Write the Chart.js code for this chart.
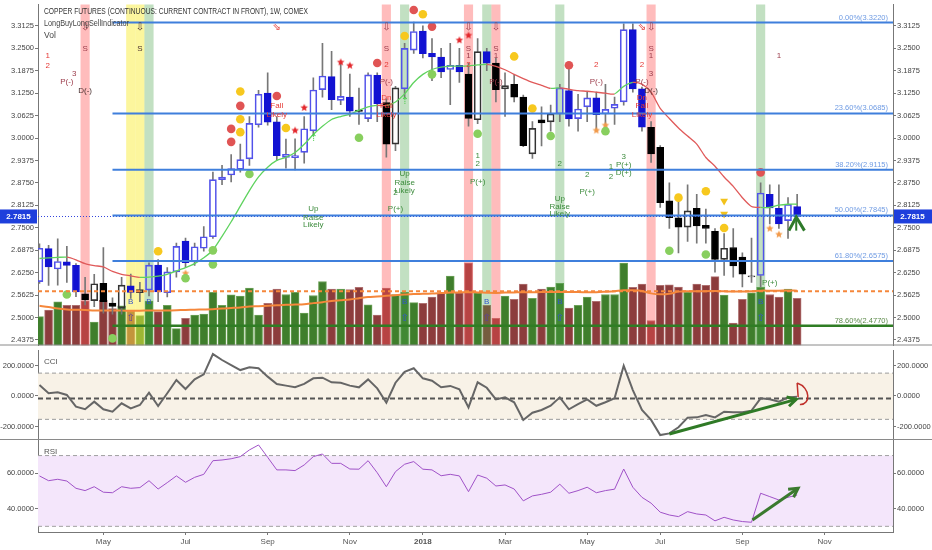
<!DOCTYPE html>
<html>
<head>
<meta charset="utf-8">
<title>Copper futures 1W</title>
<script src="https://cdn.jsdelivr.net/npm/chart.js@4.4.1/dist/chart.umd.min.js"></script>
<style>
  html, body { margin: 0; padding: 0; background: #fff; overflow: hidden; }
  #wrap { position: relative; width: 932px; height: 550px; }
  #wrap canvas { position: absolute; left: 0; }
</style>
</head>
<body>
<div id="wrap">
  <canvas id="mainChart" width="932" height="350" style="top:0"></canvas>
  <canvas id="cciChart" width="932" height="90" style="top:350px"></canvas>
  <canvas id="rsiChart" width="932" height="110" style="top:440px"></canvas>
</div>
<script>
// weekly bars, the first one is the week of 13 Mar 2017
const firstWeek = [2017, 2, 13];
const monthNames = ['Jan', 'Feb', 'Mar', 'Apr', 'May', 'Jun', 'Jul', 'Aug', 'Sep', 'Oct', 'Nov', 'Dec'];
const totalWeeks = 94;

const openP = [
  2.600, 2.692, 2.635, 2.655, 2.645, 2.566, 2.547, 2.595, 2.540, 2.526,
  2.588, 2.569, 2.576, 2.646, 2.569, 2.627, 2.713, 2.655, 2.693, 2.725,
  2.884, 2.897, 2.913, 2.942, 3.037, 3.125, 3.045, 2.946, 2.945, 2.960,
  3.020, 3.135, 3.171, 3.105, 3.114, 3.078, 3.054, 3.175, 3.099, 2.983,
  3.137, 3.245, 3.298, 3.236, 3.226, 3.191, 3.203, 3.178, 3.051, 3.241,
  3.209, 3.137, 3.150, 3.114, 2.956, 3.051, 3.045, 3.067, 3.132, 3.054,
  3.087, 3.112, 3.067, 3.083, 3.101, 3.302, 3.137, 3.030, 2.974, 2.825,
  2.778, 2.752, 2.804, 2.757, 2.740, 2.662, 2.695, 2.668, 2.613, 2.617,
  2.843, 2.804, 2.770, 2.809
];
const highP = [
  2.705, 2.701, 2.719, 2.698, 2.650, 2.612, 2.620, 2.695, 2.555, 2.612,
  2.621, 2.598, 2.652, 2.661, 2.639, 2.707, 2.721, 2.707, 2.753, 2.905,
  2.924, 2.954, 2.983, 3.060, 3.133, 3.182, 3.060, 2.997, 2.998, 3.060,
  3.168, 3.264, 3.242, 3.209, 3.178, 3.139, 3.182, 3.182, 3.109, 3.144,
  3.264, 3.323, 3.313, 3.277, 3.250, 3.264, 3.250, 3.209, 3.277, 3.250,
  3.223, 3.182, 3.177, 3.120, 3.046, 3.087, 3.092, 3.150, 3.196, 3.122,
  3.128, 3.128, 3.150, 3.114, 3.318, 3.318, 3.142, 3.046, 2.979, 2.875,
  2.843, 2.870, 2.843, 2.802, 2.748, 2.734, 2.748, 2.680, 2.721, 2.875,
  2.870, 2.870, 2.834, 2.843
];
const lowP = [
  2.595, 2.589, 2.590, 2.598, 2.558, 2.535, 2.530, 2.512, 2.509, 2.509,
  2.553, 2.544, 2.560, 2.544, 2.557, 2.612, 2.639, 2.645, 2.685, 2.720,
  2.870, 2.878, 2.905, 2.924, 3.030, 3.036, 2.938, 2.916, 2.911, 2.930,
  3.011, 3.114, 3.079, 3.093, 3.060, 3.038, 3.046, 3.046, 2.947, 2.965,
  3.114, 3.236, 3.223, 3.160, 3.168, 3.093, 3.155, 3.033, 3.040, 3.188,
  3.101, 3.060, 3.101, 2.976, 2.943, 2.978, 3.019, 3.046, 3.033, 3.019,
  3.046, 3.019, 3.033, 3.038, 3.092, 3.128, 3.019, 2.932, 2.807, 2.748,
  2.680, 2.712, 2.707, 2.707, 2.626, 2.617, 2.612, 2.585, 2.598, 2.585,
  2.761, 2.748, 2.720, 2.770
];
const closeP = [
  2.693, 2.641, 2.656, 2.645, 2.571, 2.549, 2.594, 2.544, 2.531, 2.590,
  2.570, 2.578, 2.646, 2.571, 2.627, 2.698, 2.653, 2.697, 2.725, 2.884,
  2.891, 2.915, 2.940, 3.041, 3.122, 3.044, 2.951, 2.955, 2.951, 3.026,
  3.134, 3.173, 3.107, 3.116, 3.075, 3.074, 3.176, 3.096, 2.983, 3.140,
  3.250, 3.297, 3.235, 3.226, 3.184, 3.203, 3.184, 3.055, 3.241, 3.209,
  3.135, 3.146, 3.114, 2.979, 3.027, 3.042, 3.067, 3.140, 3.053, 3.081,
  3.112, 3.065, 3.080, 3.094, 3.302, 3.137, 3.030, 2.956, 2.820, 2.778,
  2.752, 2.797, 2.755, 2.748, 2.662, 2.693, 2.644, 2.621, 2.615, 2.847,
  2.805, 2.761, 2.815, 2.7815
];
// b = blue painted bar, k = black painted bar
const candleTone = ('bbbbbkkkkk' + 'bkbbbbbbbb' + 'bbbbbbbbbb' + 'bbbbbkbbkk' + 'bbbbbbbkkb' +
                    'kkkkkkkbbb' + 'bbbbbbbkkk' + 'kkkkkkkkkb' + 'bbbb').split('');
// volume, thousands of contracts
const volume = [
  29.7, 36.3, 44.7, 41.3, 41.3, 45.7, 24.0, 46.3, 38.0, 40.7,
  35.7, 30.7, 45.7, 34.7, 41.3, 17.3, 28.0, 31.3, 32.3, 54.7,
  41.3, 52.0, 50.7, 59.0, 31.3, 43.3, 58.0, 52.3, 54.7, 33.3,
  51.3, 65.7, 58.0, 58.0, 57.3, 59.7, 41.7, 31.3, 59.0, 52.3,
  54.7, 44.0, 43.3, 49.7, 54.0, 71.3, 54.0, 84.7, 54.0, 41.3,
  28.0, 50.7, 47.3, 63.0, 48.3, 58.0, 60.0, 63.7, 38.3, 41.3,
  49.7, 45.3, 52.3, 52.3, 84.7, 59.7, 63.0, 25.7, 61.7, 62.3,
  60.0, 54.7, 63.0, 61.7, 70.7, 51.7, 23.0, 47.3, 54.0, 59.7,
  52.3, 49.7, 58.0, 48.3
];
const volumeMA = [
  40.7, 39.5, 38.0, 37.0, 36.7, 36.5, 36.0, 36.0, 36.0, 35.8,
  35.7, 35.7, 36.0, 36.0, 36.0, 36.2, 36.5, 36.8, 37.0, 37.3,
  38.0, 38.5, 39.0, 40.0, 40.3, 40.7, 41.2, 41.7, 42.0, 42.3,
  43.5, 44.5, 45.7, 46.5, 47.3, 48.5, 49.7, 50.3, 51.0, 51.7,
  52.3, 52.8, 53.0, 53.3, 53.8, 54.3, 54.5, 54.7, 54.5, 54.2,
  54.0, 54.3, 54.5, 54.7, 54.7, 54.8, 55.0, 55.0, 55.0, 54.8,
  54.7, 54.7, 55.2, 55.8, 56.7, 56.7, 56.0, 53.5, 52.5, 53.0,
  55.3, 55.7, 55.7, 55.7, 56.0, 55.7, 55.3, 55.5, 55.7, 56.3,
  56.3, 56.3, 56.5, 56.3
];
const volumeLevel = 55.7;
const trendMA = [
  2.6643, 2.6662, 2.6676, 2.6681, 2.6608, 2.6500, 2.6445, 2.6410, 2.6282, 2.6201,
  2.6160, 2.6119, 2.6125, 2.6150, 2.6201, 2.6296, 2.6391, 2.6500, 2.6662, 2.6880,
  2.7260, 2.7667, 2.8102, 2.8536, 2.8916, 2.9188, 2.9378, 2.9459, 2.9595, 2.9826,
  3.0097, 3.0328, 3.0518, 3.0599, 3.0662, 3.0776, 3.0871, 3.0912, 3.0904, 3.1007,
  3.1232, 3.1550, 3.1775, 3.1911, 3.1976, 3.2003, 3.2003, 3.2011, 3.2039, 3.2052,
  3.1998, 3.1903, 3.1775, 3.1658, 3.1550, 3.1468, 3.1384, 3.1401, 3.1360, 3.1322,
  3.1305, 3.1278, 3.1251, 3.1232, 3.1441, 3.1550, 3.1504, 3.1278, 3.0825, 3.0545,
  3.0282, 3.0056, 2.9831, 2.9459, 2.9215, 2.8916, 2.8653, 2.8337, 2.8093, 2.8066,
  2.8066, 2.8129, 2.8156, 2.8156
];
const cciValues = [
  72, 18, 24, 7, -70, -87, -37, -87, -103, -48,
  -81, -59, 22, -66, 18, 105, 46, 109, 142, 275,
  236, 203, 170, 188, 182, 127, 79, 68, 57, 79,
  116, 120, 90, 87, 68, 57, 109, 50, -44, 87,
  159, 182, 116, 100, 57, 66, 44, -75, 90, 54,
  -22, -9, -41, -157, -110, -92, -64, -9, -87, -54,
  -22, -64, -41, -15, 199, 39, -92, -157, -256, -245,
  -205, -142, -140, -125, -140, -103, -107, -107, -96, -15,
  -22, -37, -9, -5
];
const rsiValues = [
  58.5, 55.8, 56.6, 55.6, 51.5, 50.2, 52.4, 49.3, 49.0, 52.4,
  51.5, 51.9, 55.8, 51.1, 54.7, 58.5, 54.9, 57.7, 59.4, 67.1,
  67.5, 68.2, 69.4, 73.2, 76.0, 69.0, 61.9, 61.9, 61.5, 64.7,
  69.4, 70.9, 65.6, 65.6, 62.4, 62.3, 67.1, 60.3, 52.4, 60.9,
  65.1, 66.6, 62.3, 61.9, 58.6, 59.4, 58.5, 49.6, 59.0, 57.2,
  52.8, 53.4, 51.1, 44.4, 47.2, 48.1, 49.3, 53.8, 48.7, 50.2,
  52.1, 49.0, 50.2, 51.0, 62.4, 52.1, 46.4, 43.1, 38.0, 36.4,
  35.5, 38.3, 37.0, 36.4, 33.1, 35.1, 33.6, 32.7, 32.3, 48.7,
  46.8, 44.9, 46.4, 47.7
];

const fibNames = ['0.00%', '23.60%', '38.20%', '50.00%', '61.80%', '78.60%'];
const fibPrices = [3.3220, 3.0685, 2.9115, 2.7845, 2.6575, 2.4770];
const fibFromBar = 8;
const lastPrice = 2.7815;

const redBands = [5, 38, 47, 50, 67];
const yellowBands = [10, 11];
const greenBands = [12, 40, 49, 57, 79];

const priceTicks = [2.4375, 2.5, 2.5625, 2.625, 2.6875, 2.75, 2.8125, 2.875, 2.9375,
                    3.0, 3.0625, 3.125, 3.1875, 3.25, 3.3125];
const cciTicks = [-200, 0, 200];
const rsiTicks = [40, 60];
const cciLevels = [150, -17, -153];
const rsiLevels = [70, 30];

// signal marks: [bar, price]
const redDots = [[21, 3.0255], [21, 2.9894], [22, 3.0898], [26, 3.117], [37, 3.2093],
                 [41, 3.3567], [43, 3.3106], [58, 3.203], [79, 2.9044]];
const yellowDots = [[22, 3.1297], [22, 3.0526], [22, 3.0165], [27, 3.0282], [40, 3.2845],
                    [42, 3.345], [52, 3.2275], [54, 3.0825], [13, 2.6844], [70, 2.8339],
                    [73, 2.8517], [75, 2.7493]];
const greenDots = [[23, 2.8998], [35, 3.001], [43, 3.1775], [48, 3.0119], [56, 3.0056],
                   [62, 3.0192], [3, 2.5639], [8, 2.4417], [16, 2.6092], [19, 2.6871],
                   [19, 2.648], [69, 2.6861], [73, 2.6753]];
const redStars = [[28, 3.0211], [29, 3.0844], [33, 3.2112], [34, 3.202], [46, 3.2726], [47, 3.2861]];
const orangeStars = [[16, 2.6228], [61, 3.0211], [62, 3.0355], [80, 2.7477], [81, 2.7314]];
const yellowDown = [[75, 2.8246], [75, 2.7885]];

// text signals: [bar, price, text, tone]
const notes = [
  [0.9, 3.228, '1', 'r'], [0.9, 3.201, '2', 'r'], [3.8, 3.179, '3', 'm'], [3.0, 3.158, 'P(-)', 'm'],
  [5, 3.133, 'D(-)', 'd'], [5, 3.307, '⇩', 'm'], [5, 3.250, 'S', 'm'],
  [11, 3.307, '⇩', 'd'], [11, 3.250, 'S', 'd'],
  [26, 3.307, '⇘', 'r'], [26, 3.090, 'Fall', 'r'], [26, 3.065, 'Likely', 'r'],
  [38, 3.307, '⇩', 'm'], [38, 3.250, 'S', 'm'], [38, 3.204, '2', 'r'], [38, 3.158, 'P(-)', 'm'],
  [38, 3.112, 'Dn', 'r'], [38, 3.090, 'Fall', 'r'], [38, 3.065, 'Likely', 'r'],
  [47, 3.307, '⇩', 'm'], [47, 3.250, 'S', 'm'], [47, 3.228, '1', 'm'], [47, 3.204, '2', 'r'],
  [50, 3.307, '⇩', 'm'], [50, 3.250, 'S', 'm'], [50, 3.228, '1', 'm'], [50, 3.158, 'P(-)', 'm'],
  [61, 3.204, '2', 'r'], [61, 3.158, 'P(-)', 'm'],
  [66, 3.307, '⇘', 'r'], [67, 3.307, '⇩', 'm'], [67, 3.250, 'S', 'm'], [67, 3.228, '1', 'm'],
  [66, 3.204, '2', 'r'], [67, 3.179, '3', 'm'], [66, 3.158, 'P(-)', 'm'], [67, 3.133, 'D(-)', 'd'],
  [66, 3.112, 'Dn', 'r'], [66, 3.090, 'Fall', 'r'], [66, 3.065, 'Likely', 'r'],
  [81, 3.228, '1', 'm'],
  [48, 2.951, '1', 'g'], [48, 2.927, '2', 'g'], [48, 2.878, 'P(+)', 'g'],
  [57, 2.927, '2', 'g'], [60, 2.897, '2', 'g'], [60, 2.849, 'P(+)', 'g'],
  [64, 2.949, '3', 'g'], [62.6, 2.920, '1', 'g'], [64, 2.926, 'P(+)', 'g'],
  [62.6, 2.892, '2', 'g'], [64, 2.902, 'D(+)', 'g'],
  [57, 2.831, 'Up', 'g'], [57, 2.809, 'Raise', 'g'], [57, 2.788, 'Likely', 'g'],
  [30, 2.802, 'Up', 'g'], [30, 2.778, 'Raise', 'g'], [30, 2.757, 'Likely', 'g'],
  [40, 2.900, 'Up', 'g'], [40, 2.876, 'Raise', 'g'], [40, 2.854, 'Likely', 'g'],
  [39, 2.847, '2', 'g'], [39, 2.802, 'P(+)', 'g'], [80, 2.598, 'P(+)', 'g'],
  [30, 3.000, '⇡', 'l'], [40, 3.101, '⇡', 'l'],
  [10, 2.544, 'B', 'b'], [10, 2.498, '⇧', 'p'], [12, 2.544, 'B', 'b'], [12, 2.498, '⇧', 'g'],
  [40, 2.544, 'B', 'b'], [40, 2.498, '⇧', 'b'], [49, 2.544, 'B', 'b'], [49, 2.498, '⇧', 'p'],
  [57, 2.544, 'B', 'b'], [57, 2.498, '⇧', 'b'], [79, 2.544, 'B', 'b'], [79, 2.498, '⇧', 'b']
];
const noteColors = { r: '#e53935', m: '#9b3b4a', d: '#4a3030', g: '#3d8c3d', l: '#49c949', b: '#3355cc', p: '#5a3fa0' };

// hand drawn marks: [bar, value]
const upMark = [[82.1, 2.742], [82.9, 2.780], [83.8, 2.742]];
const cciArrow = [[69.0, -249], [82.9, -22]];
const cciLoop = [[83.0, 85], [84.5, 55], [84.5, -60], [83.3, -55]];
const rsiArrow = [[78.1, 33.6], [83.1, 51.5]];

// ---------------------------------------------------------------
const FONT = '"Liberation Sans", Arial, sans-serif';
const GLYPH_FONT = '"DejaVu Sans", "Liberation Sans", sans-serif';
Chart.defaults.font.family = FONT;
Chart.defaults.font.size = 7.5;
Chart.defaults.color = '#444';

const bars = openP.map((_, i) => i);
const isUp = i => closeP[i] >= openP[i];
const X_MIN = -0.16, X_MAX = 93.5;

const monthTicks = [];
for (let i = 1; i < totalWeeks; i++) {
  const d = new Date(Date.UTC(firstWeek[0], firstWeek[1], firstWeek[2] + 7 * i));
  const p = new Date(Date.UTC(firstWeek[0], firstWeek[1], firstWeek[2] + 7 * (i - 1)));
  const m = d.getUTCMonth();
  if (m !== p.getUTCMonth() && m % 2 === 0) {
    monthTicks.push({ i: i, label: m === 0 ? String(d.getUTCFullYear()) : monthNames[m] });
  }
}

function xAxis(show) {
  return {
    type: 'linear', min: X_MIN, max: X_MAX, offset: false, display: show,
    afterBuildTicks: s => { s.ticks = monthTicks.map(t => ({ value: t.i })); },
    afterFit: s => { if (show) s.height = 18; },
    grid: { drawOnChartArea: false, tickLength: 3, color: '#777', offset: false },
    border: { color: '#777' },
    ticks: {
      autoSkip: false, maxRotation: 0, padding: 2, color: '#555',
      callback: v => (monthTicks.find(t => t.i === v) || { label: '' }).label,
      font: c => {
        const t = monthTicks.find(m => c.tick && m.i === c.tick.value);
        return { family: FONT, size: 8, weight: t && /^\d+$/.test(t.label) ? 'bold' : 'normal' };
      }
    }
  };
}

function yAxis(pos, min, max, ticks, dec) {
  return {
    type: 'linear', position: pos, min: min, max: max,
    afterBuildTicks: s => { s.ticks = ticks.map(v => ({ value: v })); },
    afterFit: s => { s.width = pos === 'left' ? 38 : 39; s.paddingTop = 0; s.paddingBottom = 0; },
    grid: { drawOnChartArea: false, tickLength: 3, color: '#777' },
    border: { color: '#777' },
    ticks: { padding: 1, color: '#444', callback: v => Number(v).toFixed(dec) }
  };
}

function starCanvas(color, r) {
  const c = document.createElement('canvas');
  const s = Math.ceil(r * 2 + 2);
  c.width = c.height = s;
  const g = c.getContext('2d');
  g.fillStyle = color;
  g.beginPath();
  for (let k = 0; k < 10; k++) {
    const a = -Math.PI / 2 + k * Math.PI / 5;
    const rr = k % 2 ? r * 0.45 : r;
    g.lineTo(s / 2 + rr * Math.cos(a), s / 2 + rr * Math.sin(a));
  }
  g.closePath();
  g.fill();
  return c;
}

function marks(points, color, style, radius, extra) {
  return Object.assign({
    type: 'line', showLine: false, order: 1, clip: false,
    data: points.map(p => ({ x: p[0], y: p[1] })),
    pointStyle: style, pointRadius: radius, pointBackgroundColor: color,
    pointBorderWidth: 0, borderColor: color
  }, extra || {});
}

function line(ctx, pts, color, width, dash) {
  ctx.save();
  ctx.strokeStyle = color;
  ctx.lineWidth = width;
  ctx.setLineDash(dash || []);
  ctx.beginPath();
  pts.forEach((p, k) => k ? ctx.lineTo(p[0], p[1]) : ctx.moveTo(p[0], p[1]));
  ctx.stroke();
  ctx.restore();
}

function arrow(ctx, x0, y0, x1, y1, color) {
  const a = Math.atan2(y1 - y0, x1 - x0);
  const h = 10;
  line(ctx, [[x0, y0], [x1, y1]], color, 3);
  line(ctx, [[x1 - h * Math.cos(a - 0.5), y1 - h * Math.sin(a - 0.5)], [x1, y1],
             [x1 - h * Math.cos(a + 0.5), y1 - h * Math.sin(a + 0.5)]], color, 3);
}

function bottomRule(chart) {
  const y = chart.chartArea.bottom - 0.5;
  line(chart.ctx, [[0, y], [chart.width, y]], '#8a8a8a', 1);
}

// ------------------------------ main panel
const mainOverlay = {
  id: 'mainOverlay',
  afterDatasetDraw(chart, args) {
    if (args.index !== 0) return;
    const { ctx, chartArea: a, scales: { x } } = chart;
    const band = (list, color) => list.forEach(i => {
      const x0 = x.getPixelForValue(i - 0.5), x1 = x.getPixelForValue(i + 0.5);
      ctx.fillStyle = color;
      ctx.fillRect(x0, a.top, x1 - x0, a.bottom - a.top);
    });
    ctx.save();
    band(redBands, 'rgba(255,80,80,0.38)');
    band(yellowBands, 'rgba(250,238,60,0.5)');
    band(greenBands, 'rgba(70,160,70,0.33)');
    ctx.restore();
  },
  afterDatasetsDraw(chart) {
    const { ctx, chartArea: a, scales: { x, y, yv } } = chart;
    const vy = yv.getPixelForValue(volumeLevel);
    line(ctx, [[a.left, vy], [a.right, vy]], '#f5873b', 2, [4, 3]);
    const ly = Math.round(y.getPixelForValue(lastPrice)) + 0.5;
    line(ctx, [[a.left, ly], [a.right, ly]], '#3344dd', 1, [1, 2]);
    const fx = x.getPixelForValue(fibFromBar);
    ctx.save();
    ctx.font = '7.5px ' + FONT;
    ctx.textAlign = 'right';
    ctx.textBaseline = 'alphabetic';
    fibPrices.forEach((p, k) => {
      const fy = y.getPixelForValue(p);
      const last = k === fibPrices.length - 1;
      line(ctx, [[fx, fy], [a.right, fy]], last ? '#2f7d24' : '#3f7fdc', last ? 2.5 : 2);
      ctx.fillStyle = last ? '#5c8a4a' : '#6f9be3';
      ctx.fillText(fibNames[k] + '(' + p.toFixed(4) + ')', a.right - 5, fy - 3);
    });
    ctx.textAlign = 'center';
    ctx.textBaseline = 'middle';
    notes.forEach(nt => {
      const glyph = nt[2].charCodeAt(0) > 0x2000;
      ctx.font = glyph ? '10px ' + GLYPH_FONT : '8px ' + FONT;
      ctx.fillStyle = noteColors[nt[3]];
      ctx.fillText(nt[2], x.getPixelForValue(nt[0]), y.getPixelForValue(nt[1]));
    });
    ctx.restore();
    const up = upMark.map(p => [x.getPixelForValue(p[0]), y.getPixelForValue(p[1])]);
    line(ctx, up, '#2e7a2a', 3);
    line(ctx, [up[1], [up[1][0], up[0][1]]], '#2e7a2a', 2);
    ctx.save();
    ctx.textAlign = 'left';
    ctx.textBaseline = 'middle';
    ctx.font = '8.5px ' + FONT;
    ctx.fillStyle = '#333';
    ctx.fillText('COPPER FUTURES (CONTINUOUS: CURRENT CONTRACT IN FRONT), 1W, COMEX', 44, 12, 264);
    ctx.fillStyle = '#444';
    ctx.fillText('LongBuyLongSellIndicator', 44, 24, 85);
    ctx.fillText('Vol', 44, 36);
    ctx.restore();
  },
  afterDraw(chart) {
    const { ctx, chartArea: a, scales: { y } } = chart;
    const ly = y.getPixelForValue(lastPrice);
    ctx.save();
    ctx.fillStyle = '#1e3fdc';
    ctx.fillRect(0, ly - 7, a.left - 1, 14);
    ctx.fillRect(a.right + 1, ly - 7, chart.width - a.right - 1, 14);
    ctx.fillStyle = '#fff';
    ctx.font = 'bold 8px ' + FONT;
    ctx.textAlign = 'center';
    ctx.textBaseline = 'middle';
    ctx.fillText(lastPrice.toFixed(4), (a.left - 1) / 2, ly + 0.5);
    ctx.fillText(lastPrice.toFixed(4), (a.right + chart.width) / 2, ly + 0.5);
    ctx.restore();
    bottomRule(chart);
  }
};

new Chart(document.getElementById('mainChart'), {
  type: 'bar',
  data: {
    datasets: [
      {
        label: 'Vol', yAxisID: 'yv', order: 10, grouped: false, barThickness: 8,
        data: bars.map(i => ({ x: i, y: volume[i] })),
        backgroundColor: bars.map(i => isUp(i) ? '#3f7e2c' : '#8c3c3c'),
        borderColor: bars.map(i => isUp(i) ? '#6ea35a' : '#b07272'),
        borderWidth: 1
      },
      {
        type: 'line', label: 'Vol MA', yAxisID: 'yv', order: 9,
        data: bars.map(i => ({ x: i, y: volumeMA[i] })),
        borderColor: '#f5873b', borderWidth: 2, pointRadius: 0, tension: 0.3
      },
      {
        label: 'upper wick', yAxisID: 'y', order: 7, grouped: false, barThickness: 1,
        data: bars.map(i => ({ x: i, y: [Math.max(openP[i], closeP[i]), highP[i]] })),
        backgroundColor: '#777', borderWidth: 0
      },
      {
        label: 'lower wick', yAxisID: 'y', order: 7, grouped: false, barThickness: 1,
        data: bars.map(i => ({ x: i, y: [lowP[i], Math.min(openP[i], closeP[i])] })),
        backgroundColor: '#777', borderWidth: 0
      },
      {
        label: 'COPPER', yAxisID: 'y', order: 6, grouped: false, barThickness: 7, minBarLength: 1,
        data: bars.map(i => ({ x: i, y: [openP[i], closeP[i]] })),
        backgroundColor: bars.map(i => isUp(i) ? 'rgba(255,255,255,0)' : (candleTone[i] === 'b' ? '#1212d2' : '#000')),
        borderColor: bars.map(i => candleTone[i] === 'b' ? (isUp(i) ? '#5252ea' : '#1212d2') : (isUp(i) ? '#333' : '#000')),
        borderWidth: 1, borderSkipped: false
      },
      {
        type: 'line', label: 'trend', yAxisID: 'y', order: 5,
        data: bars.map(i => ({ x: i, y: trendMA[i] })),
        borderWidth: 1.3, pointRadius: 0, tension: 0.25,
        segment: { borderColor: c => c.p1.parsed.y >= c.p0.parsed.y ? '#5fd35f' : '#e05a5a' }
      },
      marks(redDots, '#e05454', 'circle', 4.3),
      marks(yellowDots, '#f7c81e', 'circle', 4.3),
      marks(greenDots, '#88cf5e', 'circle', 4.3),
      marks(redStars, '#e3262b', starCanvas('#e3262b', 4), 4),
      marks(orangeStars, '#f29a4a', starCanvas('#f29a4a', 4), 4),
      marks(yellowDown, '#f2c21c', 'triangle', 4.5, { rotation: 180 })
    ]
  },
  options: {
    responsive: false, animation: false, events: [],
    layout: { padding: 0 },
    plugins: { legend: { display: false }, tooltip: { enabled: false } },
    scales: {
      x: xAxis(false),
      y: yAxis('left', 2.4219, 3.3722, priceTicks, 4),
      yR: yAxis('right', 2.4219, 3.3722, priceTicks, 4),
      yv: { type: 'linear', display: false, min: 0, max: 350 }
    }
  },
  plugins: [mainOverlay]
});

// ------------------------------ CCI panel
const cciOverlay = {
  id: 'cciOverlay',
  beforeDatasetsDraw(chart) {
    const { ctx, chartArea: a, scales: { y } } = chart;
    const t = y.getPixelForValue(cciLevels[0]), b = y.getPixelForValue(cciLevels[2]);
    ctx.save();
    ctx.fillStyle = '#f8f2e7';
    ctx.fillRect(a.left, t, a.right - a.left, b - t);
    ctx.restore();
    line(ctx, [[a.left, t], [a.right, t]], '#9a9a9a', 1, [4, 3]);
    line(ctx, [[a.left, b], [a.right, b]], '#9a9a9a', 1, [4, 3]);
    const m = y.getPixelForValue(cciLevels[1]);
    line(ctx, [[a.left, m], [a.right, m]], '#555', 2, [5, 3]);
  },
  afterDatasetsDraw(chart) {
    const { ctx, scales: { x, y } } = chart;
    ctx.save();
    ctx.font = '8px ' + FONT;
    ctx.fillStyle = '#555';
    ctx.textBaseline = 'middle';
    ctx.fillText('CCI', 44, 12);
    ctx.restore();
    const p = cciArrow.map(q => [x.getPixelForValue(q[0]), y.getPixelForValue(q[1])]);
    arrow(ctx, p[0][0], p[0][1], p[1][0], p[1][1], '#2f7a26');
    const l = cciLoop.map(q => [x.getPixelForValue(q[0]), y.getPixelForValue(q[1])]);
    ctx.save();
    ctx.strokeStyle = '#c0302b';
    ctx.lineWidth = 1.5;
    ctx.beginPath();
    ctx.moveTo(l[0][0], l[0][1]);
    ctx.bezierCurveTo(l[1][0], l[1][1], l[2][0], l[2][1], l[3][0], l[3][1]);
    ctx.moveTo(l[0][0], l[0][1]);
    ctx.lineTo(l[0][0] + 1, l[0][1] + 14);
    ctx.stroke();
    ctx.restore();
  },
  afterDraw(chart) { bottomRule(chart); }
};

new Chart(document.getElementById('cciChart'), {
  type: 'line',
  data: {
    datasets: [{
      label: 'CCI', data: bars.map(i => ({ x: i, y: cciValues[i] })),
      borderColor: '#666', borderWidth: 2, pointRadius: 0, tension: 0
    }]
  },
  options: {
    responsive: false, animation: false, events: [],
    plugins: { legend: { display: false }, tooltip: { enabled: false } },
    scales: {
      x: xAxis(false),
      y: yAxis('left', -288.5, 301.6, cciTicks, 4),
      yR: yAxis('right', -288.5, 301.6, cciTicks, 4)
    }
  },
  plugins: [cciOverlay]
});

// ------------------------------ RSI panel
const rsiOverlay = {
  id: 'rsiOverlay',
  beforeDatasetsDraw(chart) {
    const { ctx, chartArea: a, scales: { y } } = chart;
    const t = y.getPixelForValue(rsiLevels[0]), b = y.getPixelForValue(rsiLevels[1]);
    ctx.save();
    ctx.fillStyle = '#f4e6fb';
    ctx.fillRect(a.left, t, a.right - a.left, b - t);
    ctx.restore();
    line(ctx, [[a.left, t], [a.right, t]], '#a0a0a0', 1, [4, 3]);
    line(ctx, [[a.left, b], [a.right, b]], '#a0a0a0', 1, [4, 3]);
  },
  afterDatasetsDraw(chart) {
    const { ctx, scales: { x, y } } = chart;
    ctx.save();
    ctx.font = '8px ' + FONT;
    ctx.fillStyle = '#555';
    ctx.textBaseline = 'middle';
    ctx.fillText('RSI', 44, 12);
    ctx.restore();
    const p = rsiArrow.map(q => [x.getPixelForValue(q[0]), y.getPixelForValue(q[1])]);
    arrow(ctx, p[0][0], p[0][1], p[1][0], p[1][1], '#3a7a2e');
  }
};

new Chart(document.getElementById('rsiChart'), {
  type: 'line',
  data: {
    datasets: [{
      label: 'RSI', data: bars.map(i => ({ x: i, y: rsiValues[i] })),
      borderColor: '#a052c8', borderWidth: 1, pointRadius: 0, tension: 0
    }]
  },
  options: {
    responsive: false, animation: false, events: [],
    plugins: { legend: { display: false }, tooltip: { enabled: false } },
    scales: {
      x: xAxis(true),
      y: yAxis('left', 26.8, 78.8, rsiTicks, 4),
      yR: yAxis('right', 26.8, 78.8, rsiTicks, 4)
    }
  },
  plugins: [rsiOverlay]
});
</script>
</body>
</html>
